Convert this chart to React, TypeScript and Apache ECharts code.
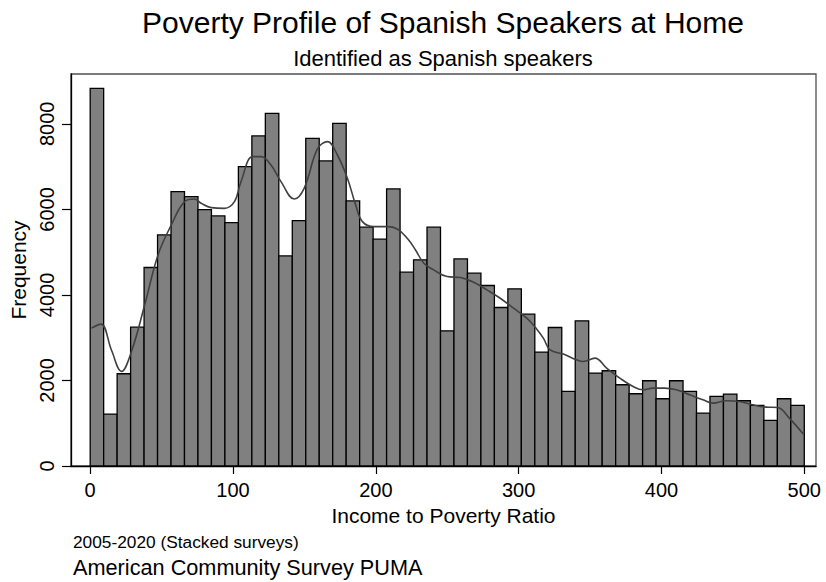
import React, { useEffect, useRef } from "react";
import * as echarts from "echarts";

const chartTitle = "Poverty Profile of Spanish Speakers at Home";
const chartSubtitle = "Identified as Spanish speakers";
const xAxisTitle = "Income to Poverty Ratio";
const yAxisTitle = "Frequency";
const noteLine1 = "2005-2020 (Stacked surveys)";
const noteLine2 = "American Community Survey PUMA";

// Histogram: 53 equal-width bins from 0 to 500
const binStart = 0;
const binEnd = 500;
const frequencies = [
  8831, 1215, 2157, 3247, 4641, 5404, 6416, 6300, 5996, 5848,
  5692, 7000, 7717, 8247, 4913, 5739, 7663, 7133, 8013, 6198,
  5584, 5303, 6479, 4532, 4820, 5584, 3161, 4843, 4509, 4220,
  3706, 4142, 3551, 2663, 3239, 1743, 3395, 2173, 2227, 1900,
  1689, 1993, 1572, 1993, 1743, 1238, 1626, 1682, 1526, 1416,
  1065, 1572, 1416,
];

// Kernel density (scaled to frequency)
const densityX = [
  1, 7.5, 15, 21.9, 28.9, 38.2, 47.5, 56.8, 66.1, 73, 77.7, 84.7, 94, 101,
  105.6, 113.8, 119.6, 126.6, 133.6, 142.9, 149.8, 159.2, 166.2, 173.1, 180.1,
  185.9, 190.6, 198.7, 208, 215, 222, 227.8, 233.6, 240.5, 249.9, 259.2, 268.5,
  277.8, 287.1, 296.4, 305.7, 312.7, 317.3, 322, 331.3, 340.6, 345.2, 353.4,
  361.6, 370.8, 380.1, 387.1, 394, 402.2, 410.4, 419.7, 429, 436, 445.3, 454.6,
  463.9, 473.2, 481.3, 489.5, 499.3,
];
const densityY = [
  3224, 3317, 2700, 2212, 2678, 3770, 4935, 5636, 6181, 6243, 6142, 6041, 6025, 6181,
  6650, 7233, 7233, 7038, 6650, 6243, 6493, 7420, 7584, 7272, 6727,
  6104, 5714, 5597, 5597, 5543, 5325, 5052, 4741, 4585, 4429, 4406, 4297,
  4118, 3923, 3689, 3456, 3200, 2990, 2717, 2616, 2483, 2444, 2522,
  2289, 2055, 1860, 1782, 1821, 1821, 1782, 1665, 1548, 1470, 1525, 1509,
  1431, 1377, 1369, 1120, 747,
];

const xTicks = [0, 100, 200, 300, 400, 500];
const yTicks = [0, 2000, 4000, 6000, 8000];

const FONT = "'Liberation Sans', Arial, sans-serif";

export default function App() {
  const ref = useRef<HTMLDivElement>(null);

  useEffect(() => {
    if (!ref.current) return;
    const chart = echarts.init(ref.current, null, { renderer: "svg" });
    const w = (binEnd - binStart) / frequencies.length;
    const histData = frequencies.map((f, i) => [binStart + i * w, binStart + (i + 1) * w, f]);
    const densityData = densityX.map((x, i) => [x, densityY[i]]);

    chart.setOption({
      animation: false,
      backgroundColor: "#ffffff",
      textStyle: { fontFamily: FONT },
      title: [
        {
          text: chartTitle,
          left: 443,
          top: 7,
          padding: 0,
          textAlign: "center",
          textVerticalAlign: "top",
          textStyle: { fontSize: 30, fontWeight: "normal", color: "#000", fontFamily: FONT },
        },
        {
          text: chartSubtitle,
          left: 443,
          top: 47,
          padding: 0,
          textAlign: "center",
          textVerticalAlign: "top",
          textStyle: { fontSize: 22, fontWeight: "normal", color: "#000", fontFamily: FONT },
        },
        {
          text: noteLine1,
          left: 73,
          top: 533,
          padding: 0,
          textAlign: "left",
          textVerticalAlign: "top",
          textStyle: { fontSize: 17.3, fontWeight: "normal", color: "#000", fontFamily: FONT },
        },
        {
          text: noteLine2,
          left: 73,
          top: 556,
          padding: 0,
          textAlign: "left",
          textVerticalAlign: "top",
          textStyle: { fontSize: 21.7, fontWeight: "normal", color: "#000", fontFamily: FONT },
        },
      ],
      grid: {
        left: 70,
        right: 10,
        top: 74,
        bottom: 116,
        show: true,
        borderColor: "#505050",
        borderWidth: 1.3,
        backgroundColor: "transparent",
      },
      xAxis: {
        type: "value",
        min: -13.5,
        max: 508.2,
        name: xAxisTitle,
        nameLocation: "middle",
        nameGap: 35,
        nameTextStyle: { fontSize: 21, color: "#000", fontFamily: FONT },
        axisLine: { show: true, onZero: false, lineStyle: { color: "#000", width: 1.3 } },
        axisTick: { show: true, length: 8, customValues: xTicks, lineStyle: { color: "#000", width: 1.2 } },
        axisLabel: {
          customValues: xTicks,
          fontSize: 20,
          color: "#000",
          margin: 14,
          fontFamily: FONT,
          formatter: (v: number) => String(v),
        },
        splitLine: { show: false },
      },
      yAxis: {
        type: "value",
        min: 0,
        max: 9166,
        name: yAxisTitle,
        nameLocation: "middle",
        nameRotate: 90,
        nameGap: 40,
        nameTextStyle: { fontSize: 21, color: "#000", fontFamily: FONT },
        axisLine: { show: true, onZero: false, lineStyle: { color: "#000", width: 1.3 } },
        axisTick: { show: true, length: 9, customValues: yTicks, lineStyle: { color: "#000", width: 1.2 } },
        axisLabel: {
          customValues: yTicks,
          rotate: 90,
          fontSize: 20,
          color: "#000",
          margin: 14,
          fontFamily: FONT,
          formatter: (v: number) => String(v),
        },
        splitLine: { show: false },
      },
      series: [
        {
          type: "custom",
          name: "Histogram",
          data: histData,
          encode: { x: [0, 1], y: 2 },
          z: 2,
          renderItem: (params: any, api: any) => {
            const p0 = api.coord([api.value(0), api.value(2)]);
            const p1 = api.coord([api.value(1), 0]);
            return {
              type: "rect",
              shape: { x: p0[0], y: p0[1], width: p1[0] - p0[0], height: p1[1] - p0[1] },
              style: { fill: "#808080", stroke: "#000000", lineWidth: 1.3 },
            };
          },
        },
        {
          type: "line",
          name: "Density",
          data: densityData,
          smooth: 0.4,
          showSymbol: false,
          symbol: "none",
          z: 5,
          lineStyle: { color: "#404040", width: 1.6 },
        },
      ],
    });

    return () => chart.dispose();
  }, []);

  return (
    <div
      ref={ref}
      style={{ position: "fixed", left: 0, top: 0, width: 826, height: 582 }}
    />
  );
}
